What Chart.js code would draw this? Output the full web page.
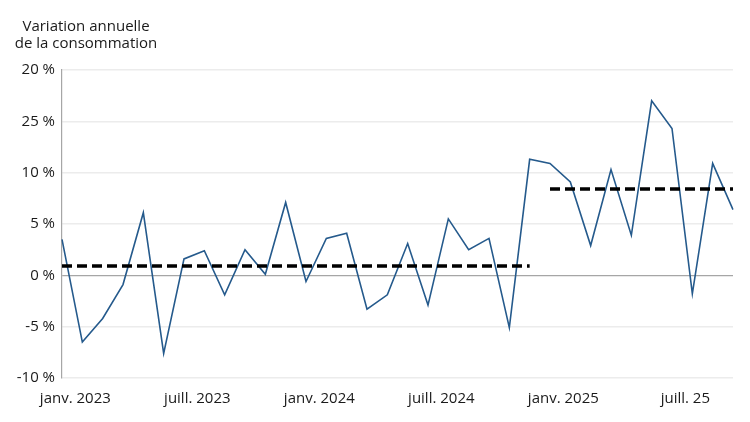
<!DOCTYPE html>
<html>
<head>
<meta charset="utf-8">
<script src="https://cdn.jsdelivr.net/npm/chart.js@4"></script>
<style>
  html, body { margin: 0; padding: 0; background: #fff; }
  #wrap { width: 750px; height: 422px; position: relative; }
</style>
</head>
<body>
<div id="wrap"><canvas id="chart"></canvas></div>
<script>
// mois (déc. 2022 -> sept. 2025)
const categories = [
  'déc. 2022',
  'janv. 2023', 'févr. 2023', 'mars 2023', 'avr. 2023', 'mai 2023', 'juin 2023',
  'juill. 2023', 'août 2023', 'sept. 2023', 'oct. 2023', 'nov. 2023', 'déc. 2023',
  'janv. 2024', 'févr. 2024', 'mars 2024', 'avr. 2024', 'mai 2024', 'juin 2024',
  'juill. 2024', 'août 2024', 'sept. 2024', 'oct. 2024', 'nov. 2024', 'déc. 2024',
  'janv. 2025', 'févr. 2025', 'mars 2025', 'avr. 2025', 'mai 2025', 'juin 2025',
  'juill. 2025', 'août 2025', 'sept. 2025'
];

// variation annuelle (%)
const consumption = [
  3.5,
  -6.5, -4.2, -0.9, 6.1, -7.6, 1.6,
  2.4, -1.9, 2.5, 0.1, 7.1, -0.6,
  3.6, 4.1, -3.3, -1.9, 3.1, -2.9,
  5.5, 2.5, 3.6, -5.1, 11.3, 10.9,
  9.1, 2.9, 10.3, 3.9, 17.0, 14.3,
  -1.8, 10.9, 6.4
];

// moyennes (lignes pointillées)
const avgBefore = 0.9;   // déc. 2022 -> nov. 2024
const avgAfter = 8.4;    // déc. 2024 -> sept. 2025
const splitMonth = 'déc. 2024';

// étiquettes des axes
const xTickAt = ['janv. 2023', 'juill. 2023', 'janv. 2024', 'juill. 2024', 'janv. 2025', 'juill. 2025'];
const xTickText = ['janv. 2023', 'juill. 2023', 'janv. 2024', 'juill. 2024', 'janv. 2025', 'juill. 25'];
const yTickValues = [-10, -5, 0, 5, 10, 15, 20];
const yTickText = ['-10 %', '-5 %', '0 %', '5 %', '10 %', '25 %', '20 %'];

const titleLines = ['Variation annuelle', 'de la consommation'];

const FONT = "'Open Sans', 'Noto Sans', sans-serif";
Chart.defaults.font.family = FONT;
Chart.defaults.font.size = 15;
Chart.defaults.color = '#1a1a1a';

const splitIdx = categories.indexOf(splitMonth);
const beforeData = categories.map((c, i) => i < splitIdx ? avgBefore : null);
const afterData = categories.map((c, i) => i >= splitIdx ? avgAfter : null);

// titre en haut à gauche (lignes centrées l'une sur l'autre)
const topTitle = {
  id: 'topTitle',
  afterDraw(chart) {
    const ctx = chart.ctx;
    ctx.save();
    ctx.font = '15px ' + FONT;
    ctx.fillStyle = '#1a1a1a';
    ctx.textAlign = 'center';
    ctx.textBaseline = 'alphabetic';
    titleLines.forEach((t, i) => ctx.fillText(t, 86, 31 + i * 16.7));
    ctx.restore();
  }
};

const ctx = document.getElementById('chart').getContext('2d');
new Chart(ctx, {
  type: 'line',
  data: {
    labels: categories,
    datasets: [
      {
        label: 'Consommation',
        data: consumption,
        borderColor: '#255a8c',
        borderWidth: 1.6,
        pointRadius: 0,
        tension: 0,
        order: 2
      },
      {
        label: 'Moyenne avant',
        data: beforeData,
        borderColor: '#000',
        borderWidth: 3.5,
        borderDash: [10, 5],
        pointRadius: 0,
        spanGaps: false,
        order: 1
      },
      {
        label: 'Moyenne après',
        data: afterData,
        borderColor: '#000',
        borderWidth: 3.5,
        borderDash: [10, 5],
        pointRadius: 0,
        spanGaps: false,
        order: 1
      }
    ]
  },
  options: {
    responsive: true,
    maintainAspectRatio: false,
    animation: false,
    layout: { padding: { top: 70, right: 17, bottom: 14, left: 0 } },
    plugins: {
      legend: { display: false },
      tooltip: { enabled: false }
    },
    scales: {
      x: {
        type: 'category',
        offset: false,
        grid: { display: false, drawTicks: false },
        border: { display: false },
        ticks: {
          autoSkip: false,
          maxRotation: 0,
          padding: 12,
          labelOffset: -7,
          callback: function (value) {
            const k = xTickAt.indexOf(categories[value]);
            return k >= 0 ? xTickText[k] : '';
          }
        },
        afterFit: (scale) => { scale.height = 30; }
      },
      y: {
        min: -10,
        max: 20,
        afterBuildTicks: (scale) => { scale.ticks = yTickValues.map(v => ({ value: v })); },
        ticks: {
          padding: 7,
          callback: function (value) {
            return yTickText[yTickValues.indexOf(value)];
          }
        },
        grid: {
          drawTicks: false,
          color: (c) => c.tick && c.tick.value === 0 ? '#a6a6a6' : '#ececec',
          lineWidth: (c) => c.tick && c.tick.value === 0 ? 1.2 : 1.5
        },
        border: { display: true, color: '#a6a6a6', width: 1.2 },
        afterFit: (scale) => { scale.width = 62; }
      }
    }
  },
  plugins: [topTitle]
});
</script>
</body>
</html>
